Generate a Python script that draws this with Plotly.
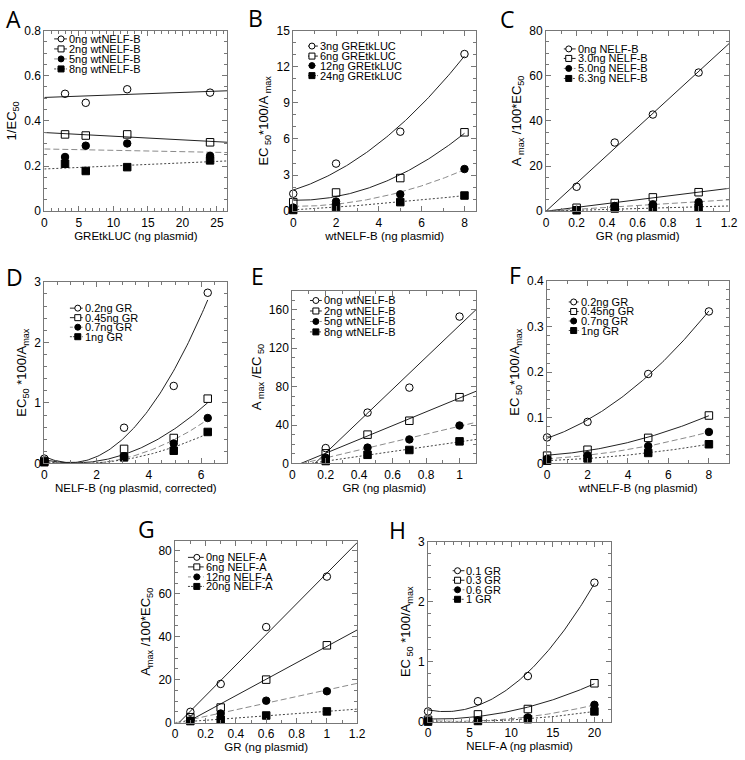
import numpy as np
import plotly.graph_objects as go

W, H = 745, 760

# ---------------- data ----------------
# Panel A
A_x = [3, 6, 12, 24]
A_0ng = [0.52, 0.48, 0.54, 0.525]
A_2ng = [0.34, 0.335, 0.34, 0.305]
A_5ng = [0.24, 0.29, 0.30, 0.245]
A_8ng = [0.21, 0.178, 0.195, 0.225]
A_labels = ["0ng wtNELF-B", "2ng wtNELF-B", "5ng wtNELF-B", "8ng wtNELF-B"]
# Panel B
B_x = [0, 2, 5, 8]
B_3ng = [1.45, 3.95, 6.6, 13.05]
B_6ng = [0.75, 1.55, 2.75, 6.55]
B_12ng = [0.3, 0.8, 1.4, 3.5]
B_24ng = [0.1, 0.35, 0.75, 1.3]
B_labels = ["3ng GREtkLUC", "6ng GREtkLUC", "12ng GREtkLUC", "24ng GREtkLUC"]
# Panel C
C_x = [0.2, 0.45, 0.7, 1.0]
C_0ng = [10.8, 30.4, 42.8, 61.4]
C_3ng = [1.5, 3.6, 6.1, 8.4]
C_5ng = [0.6, 2.3, 3.0, 4.0]
C_6ng = [0.4, 1.2, 1.6, 1.6]
C_labels = ["0ng NELF-B", "3.0ng NELF-B", "5.0ng NELF-B", "6.3ng NELF-B"]
# Panel D
D_x = [0, 3.05, 4.95, 6.25]
D_02 = [0.08, 0.59, 1.28, 2.82]
D_045 = [0.04, 0.24, 0.42, 1.07]
D_07 = [0.03, 0.12, 0.33, 0.75]
D_1 = [0.02, 0.10, 0.21, 0.52]
D_labels = ["0.2ng GR", "0.45ng GR", "0.7ng GR", "1ng GR"]
# Panel E
E_x = [0.2, 0.45, 0.7, 1.0]
E_0ng = [16, 53, 79, 153]
E_2ng = [10.5, 30, 44.5, 69]
E_5ng = [6, 16.5, 25, 39.5]
E_8ng = [2.5, 9, 14, 23]
E_labels = ["0ng wtNELF-B", "2ng wtNELF-B", "5ng wtNELF-B", "8ng wtNELF-B"]
# Panel F
F_x = [0, 2, 5, 8]
F_02 = [0.057, 0.091, 0.196, 0.333]
F_045 = [0.017, 0.030, 0.056, 0.105]
F_07 = [0.010, 0.018, 0.038, 0.069]
F_1 = [0.006, 0.011, 0.023, 0.042]
F_labels = ["0.2ng GR", "0.45ng GR", "0.7ng GR", "1ng GR"]
# Panel G
G_x = [0.1, 0.3, 0.6, 1.0]
G_0ng = [5, 18, 44.5, 68]
G_6ng = [2.5, 7, 20, 36]
G_12ng = [1, 4.2, 10.2, 14.6]
G_20ng = [0.7, 1.3, 3.3, 5.2]
G_labels = ["0ng NELF-A", "6ng NELF-A", "12ng NELF-A", "20ng NELF-A"]
# Panel H
H_x = [0, 6, 12, 20]
H_01 = [0.17, 0.34, 0.76, 2.32]
H_03 = [0.03, 0.12, 0.21, 0.64]
H_06 = [0.01, 0.02, 0.07, 0.28]
H_1 = [0.0, 0.01, 0.04, 0.17]
H_labels = ["0.1 GR", "0.3 GR", "0.6 GR", "1 GR"]

# ---------------- panel layout (pixels) ----------------
panels = [
    dict(letter="A", box=(42, 228, 24, 208), xr=[0, 26.5], yr=[0, 0.8], xd=5, xm=1, yd=0.2, ym=0.05,
         xt="GREtkLUC (ng plasmid)", yt="1/EC<sub>50</sub>", fit="lin",
         x=A_x, ys=[A_0ng, A_2ng, A_5ng, A_8ng], labels=A_labels,
         leg=dict(l0=10, mk=17, tx=23, rows=[32.5, 42.7, 52.9, 63.1]), let=(1, 12)),
    dict(letter="B", box=(295, 481, 24, 208), xr=[0, 8.55], yr=[0, 15], xd=2, xm=1, yd=3, ym=1,
         xt="wtNELF-B (ng plasmid)", yt="EC<sub> 50</sub>*100/A<sub> max</sub>", fit="quad",
         x=B_x, ys=[B_3ng, B_6ng, B_12ng, B_24ng], labels=B_labels,
         leg=dict(l0=15, mk=19, tx=25, rows=[39.8, 50, 59.7, 69.9]), let=(247, 11)),
    dict(letter="C", box=(552, 738, 24, 208), xr=[0, 1.2], yr=[0, 80], xd=0.2, xm=0.1, yd=20, ym=5,
         xt="GR (ng plasmid)", yt="A<sub> max</sub> /100*EC<sub>50</sub>", fit="origin",
         x=C_x, ys=[C_0ng, C_3ng, C_5ng, C_6ng], labels=C_labels,
         leg=dict(l0=18, mk=23, tx=30, rows=[42.7, 52.4, 62.6, 72.8]), let=(503, 12)),
    dict(letter="D", box=(42, 228, 280, 465), xr=[0, 7], yr=[0, 3], xd=2, xm=0.5, yd=1, ym=0.2,
         xt="NELF-B (ng plasmid, corrected)", yt="EC<sub>50</sub> *100/A<sub>max</sub>", fit="quad",
         x=D_x, ys=[D_02, D_045, D_07, D_1], labels=D_labels,
         leg=dict(l0=26, mk=34, tx=39, rows=[306.8, 316.5, 326.2, 335.9]), let=(1, 275)),
    dict(letter="E", box=(294, 481, 289, 465), xr=[0, 1.1], yr=[0, 180], xd=0.2, xm=0.1, yd=40, ym=10,
         xt="GR (ng plasmid)", yt="A<sub> max</sub> /EC<sub> 50</sub>", fit="lin",
         x=E_x, ys=[E_0ng, E_2ng, E_5ng, E_8ng], labels=E_labels,
         leg=dict(l0=18, mk=24, tx=30, rows=[299, 309.7, 320.4, 331]), let=(250, 274)),
    dict(letter="F", box=(553, 738, 279, 465), xr=[0, 9], yr=[0, 0.4], xd=2, xm=1, yd=0.1, ym=0.02,
         xt="wtNELF-B (ng plasmid)", yt="EC<sub> 50</sub>*100/A<sub>max</sub>", fit="quad",
         x=F_x, ys=[F_02, F_045, F_07, F_1], labels=F_labels,
         leg=dict(l0=22, mk=27, tx=32, rows=[300.5, 310.2, 319.9, 329.6]), let=(512, 273)),
    dict(letter="G", box=(175, 360, 544, 729), xr=[0, 1.2], yr=[0, 84.6], xd=0.2, xm=0.1, yd=20, ym=5,
         xt="GR (ng plasmid)", yt="A<sub>max</sub> /100*EC<sub>50</sub>", fit="lin",
         x=G_x, ys=[G_0ng, G_6ng, G_12ng, G_20ng], labels=G_labels,
         leg=dict(l0=13, mk=22, tx=29, rows=[560.7, 570.4, 580.6, 590.3]), let=(135, 532)),
    dict(letter="H", box=(432, 618, 545, 728), xr=[0, 22], yr=[0, 3], xd=5, xm=1, yd=1, ym=0.2,
         xt="NELF-A (ng plasmid)", yt="EC<sub> 50</sub> *100/A<sub>max</sub>", fit="quad",
         x=H_x, ys=[H_01, H_03, H_06, H_1], labels=H_labels,
         leg=dict(l0=25, mk=30, tx=37, rows=[574.3, 584, 593.7, 603.4]), let=(390, 533)),
]

styles = [
    dict(symbol="circle-open", dash="solid", lcolor="#222222", fill="white"),
    dict(symbol="square-open", dash="solid", lcolor="#222222", fill="white"),
    dict(symbol="circle", dash="6px,3px", lcolor="#8a8a8a", fill="black"),
    dict(symbol="square", dash="2px,2px", lcolor="#444444", fill="black"),
]

FONT = "Liberation Sans, Arial, sans-serif"
FRAME = "#777777"

fig = go.Figure()
layout = dict(width=W, height=H, margin=dict(l=0, r=0, t=0, b=0),
              paper_bgcolor="white", plot_bgcolor="white", showlegend=False,
              font=dict(family=FONT, size=12, color="black"))
shapes, annotations = [], []


def fit_curve(kind, x, y, xmax):
    x = np.asarray(x, float)
    y = np.asarray(y, float)
    if kind == "lin":
        c = np.polyfit(x, y, 1)
        xs = np.linspace(0, xmax, 60)
        return xs, np.polyval(c, xs)
    if kind == "origin":
        k = float(np.sum(x * y) / np.sum(x * x))
        xs = np.linspace(0, xmax, 60)
        return xs, k * xs
    c = np.polyfit(x, y, 2)
    xs = np.linspace(0, x.max(), 120)
    return xs, np.polyval(c, xs)


for i, p in enumerate(panels):
    n = "" if i == 0 else str(i + 1)
    xref, yref = "x" + n, "y" + n
    l, r, t, b = p["box"]
    for s, y in enumerate(p["ys"]):
        st = styles[s]
        xs, yf = fit_curve(p["fit"], p["x"], y, p["xr"][1])
        fig.add_trace(go.Scatter(x=xs, y=yf, mode="lines", xaxis=xref, yaxis=yref,
                                 line=dict(color=st["lcolor"], width=1, dash=st["dash"]),
                                 hoverinfo="skip", name=p["labels"][s]))
    for s, y in enumerate(p["ys"]):
        st = styles[s]
        fig.add_trace(go.Scatter(x=p["x"], y=y, mode="markers", xaxis=xref, yaxis=yref,
                                 cliponaxis=False, name=p["labels"][s],
                                 marker=dict(symbol=st["symbol"], size=7.5, color="black",
                                             line=dict(color="black", width=1))))
    axcommon = dict(showgrid=False, zeroline=False, showline=True, linecolor=FRAME, linewidth=1,
                    mirror="allticks", ticks="inside", ticklen=5, tickcolor=FRAME, tickwidth=1,
                    tickmode="linear", tick0=0, tickfont=dict(family=FONT, size=12, color="black"))
    layout["xaxis" + n] = dict(axcommon, domain=[l / W, r / W], range=p["xr"], anchor=yref,
                               dtick=p["xd"],
                               minor=dict(dtick=p["xm"], ticks="inside", ticklen=3, tickcolor=FRAME),
                               title=dict(text=p["xt"], font=dict(family=FONT, size=11.5), standoff=0))
    layout["yaxis" + n] = dict(axcommon, domain=[1 - b / H, 1 - t / H], range=p["yr"], anchor=xref,
                               dtick=p["yd"],
                               minor=dict(dtick=p["ym"], ticks="inside", ticklen=3, tickcolor=FRAME),
                               title=dict(text=p["yt"], font=dict(family=FONT, size=13), standoff=4))
    # panel letter
    annotations.append(dict(text=p["letter"], x=p["let"][0] / W, y=1 - p["let"][1] / H,
                            xref="paper", yref="paper", xanchor="left", yanchor="middle",
                            showarrow=False, font=dict(family="Open Sans, sans-serif", size=23)))
    # legend (custom compact key)
    lg = p["leg"]
    for s, row in enumerate(lg["rows"]):
        st = styles[s]
        yy = 1 - row / H
        shapes.append(dict(type="line", xref="paper", yref="paper",
                           x0=(l + lg["l0"]) / W, x1=(l + lg["tx"]) / W, y0=yy, y1=yy,
                           line=dict(color=st["lcolor"], width=1,
                                     dash="solid" if st["dash"] == "solid" else ("3px,2px" if s == 2 else "2px,1px"))))
        shapes.append(dict(type="circle" if "circle" in st["symbol"] else "rect",
                           xref="paper", yref="paper", xsizemode="pixel", ysizemode="pixel",
                           xanchor=(l + lg["mk"]) / W, yanchor=yy, x0=-3, x1=3, y0=-3, y1=3,
                           fillcolor=st["fill"], line=dict(color="black", width=1)))
        annotations.append(dict(text=p["labels"][s], x=(l + lg["tx"]) / W, y=yy,
                                xref="paper", yref="paper", xanchor="left", yanchor="middle",
                                showarrow=False, xshift=0,
                                font=dict(family=FONT, size=11, color="black")))

layout["shapes"] = shapes
layout["annotations"] = annotations
fig.update_layout(**layout)
fig.write_html("out.html", config={"displayModeBar": False},
               post_script="document.body.style.margin='0';document.body.style.overflow='hidden';")
